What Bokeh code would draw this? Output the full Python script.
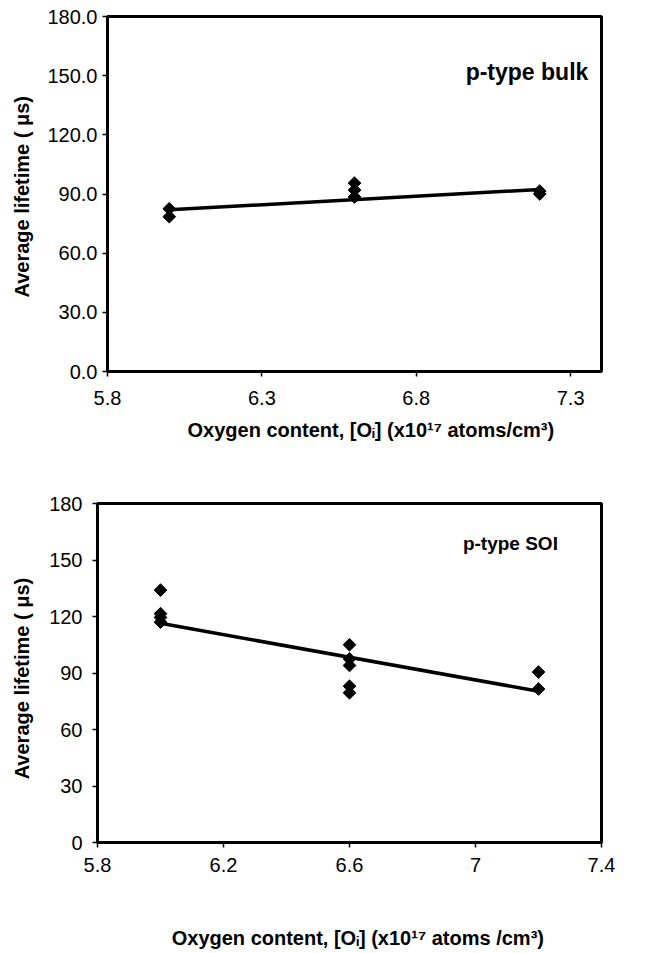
import numpy as np
from bokeh.plotting import figure
from bokeh.layouts import column, row
from bokeh.models import (Range1d, FixedTicker, Label, NumeralTickFormatter,
                          Spacer, Title)
from bokeh.embed import file_html
from bokeh.resources import INLINE

# ---- data ----
bulk_x = [6.0, 6.0, 6.6, 6.6, 6.6, 7.2, 7.2]
bulk_y = [82.5, 78.5, 95.5, 92.0, 88.5, 91.5, 90.0]
bulk_trend_x = [6.0, 7.2]
bulk_trend_y = [82.0, 92.3]

soi_x = [6.0, 6.0, 6.0, 6.0, 6.6, 6.6, 6.6, 6.6, 6.6, 7.2, 7.2]
soi_y = [134.0, 121.5, 119.5, 117.0, 105.0, 97.5, 94.0, 83.0, 79.5, 90.5, 81.5]
soi_trend_x = [6.0, 7.2]
soi_trend_y = [116.4, 80.3]

top_xticks = [5.8, 6.3, 6.8, 7.3]
bot_xticks = [5.8, 6.2, 6.6, 7.0, 7.4]
yticks = [0, 30, 60, 90, 120, 150, 180]

FONT = "Liberation Sans"
X_TITLE = "Oxygen content, [O\u1d62] (x10\u00b9\u2077 atoms/cm\u00b3)"
X_TITLE2 = "\u00a0\u00a0\u00a0\u00a0Oxygen content, [O\u1d62]  (x10\u00b9\u2077 atoms /cm\u00b3)"


def style(p, xfmt, yfmt, xt, xstand, ystand, ylstand):
    p.outline_line_color = "black"
    p.outline_line_width = 3
    p.xgrid.visible = False
    p.ygrid.visible = False
    p.background_fill_color = "white"
    p.border_fill_color = "white"
    for ax in (p.xaxis[0], p.yaxis[0]):
        ax.axis_line_width = 3
        ax.axis_line_color = "black"
        ax.major_tick_out = 5
        ax.major_tick_in = 0
        ax.major_tick_line_width = 1.5
        ax.minor_tick_line_color = None
        ax.major_label_text_font = FONT
        ax.major_label_text_font_size = "20px"
        ax.major_label_text_color = "black"
        ax.axis_label_text_font = FONT
        ax.axis_label_text_font_size = "20px"
        ax.axis_label_text_font_style = "bold"
        ax.axis_label_text_color = "black"
    p.xaxis[0].ticker = FixedTicker(ticks=xt)
    p.yaxis[0].ticker = FixedTicker(ticks=yticks)
    p.xaxis[0].formatter = NumeralTickFormatter(format=xfmt)
    p.yaxis[0].formatter = NumeralTickFormatter(format=yfmt)
    p.xaxis[0].major_label_standoff = xstand
    p.yaxis[0].major_label_standoff = ystand
    p.yaxis[0].axis_label_standoff = ylstand


p1 = figure(frame_width=494, frame_height=355,
            min_border_left=97, min_border_right=49,
            min_border_top=16, min_border_bottom=86,
            x_range=Range1d(5.8, 7.4), y_range=Range1d(0, 180),
            output_backend="svg", toolbar_location=None,
            y_axis_label="Average lifetime (  \u03bcs)")
style(p1, "0.0", "0.0", top_xticks, 14, 5, 11)
p1.line(bulk_trend_x, bulk_trend_y, line_color="black", line_width=3.5)
p1.scatter(bulk_x, bulk_y, marker="square", angle=np.pi / 4, size=9,
           color="black")
p1.add_layout(Label(x=6.96, y=152, text="p-type bulk", text_font=FONT,
                    text_font_size="23px", text_font_style="bold",
                    text_color="black", text_baseline="alphabetic"))
p1.add_layout(Title(text=X_TITLE, align="left", offset=80, standoff=19,
                    text_font=FONT, text_font_size="20px",
                    text_font_style="bold", text_color="black"), "below")

p2 = figure(frame_width=504, frame_height=339,
            min_border_left=97, min_border_right=47,
            min_border_top=46, min_border_bottom=103,
            x_range=Range1d(5.8, 7.4), y_range=Range1d(0, 180),
            output_backend="svg", toolbar_location=None,
            x_axis_label=X_TITLE2,
            y_axis_label="Average  lifetime (  \u03bcs)")
style(p2, "0.[0]", "0", bot_xticks, 10, 10, 13)
p2.xaxis[0].axis_label_standoff = 52
p2.line(soi_trend_x, soi_trend_y, line_color="black", line_width=3.5)
p2.scatter(soi_x, soi_y, marker="square", angle=np.pi / 4, size=9,
           color="black")
p2.add_layout(Label(x=6.96, y=158.8, text="p-type SOI", text_font=FONT,
                    text_font_size="19px", text_font_style="bold",
                    text_color="black", text_baseline="alphabetic"))

layout = column(row(Spacer(width=8, height=10), p1), p2, spacing=0)
open("out.html", "w").write(file_html(layout, INLINE))
